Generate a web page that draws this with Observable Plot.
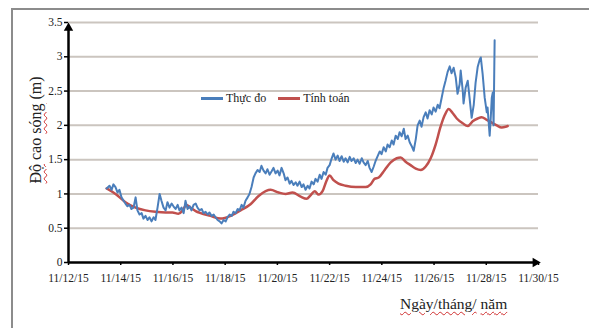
<!DOCTYPE html>
<html>
<head>
<meta charset="utf-8">
<script src="https://cdn.jsdelivr.net/npm/d3@7"></script>
<script src="https://cdn.jsdelivr.net/npm/@observablehq/plot@0.6"></script>
<style>
  html, body { margin: 0; padding: 0; background: #fff; }
  #wrap { position: relative; width: 589px; height: 328px; overflow: hidden; font-family: "Liberation Serif", serif; }
  #frame { position: absolute; left: 11px; top: 8px; width: 700px; height: 400px; border-left: 2px solid #8c8c8c; border-top: 2px solid #8c8c8c; }
  #chart { position: absolute; left: 0; top: 0; }
  .legend { position: absolute; top: 91px; left: 201px; font-size: 12px; color: #222; display: flex; align-items: center; white-space: nowrap; }
  .sw { display: inline-block; width: 22px; height: 2.5px; margin-right: 3px; }
  .ylab { position: absolute; left: 36px; top: 130px; transform: translate(-50%, -50%) rotate(-90deg); font-size: 16px; color: #222; white-space: nowrap; }
  .xlab { position: absolute; left: 400px; top: 295px; font-size: 15.5px; color: #222; white-space: nowrap; }
  .sp { text-decoration: underline wavy #d03030; text-decoration-thickness: 1px; text-underline-offset: 2px; }
</style>
</head>
<body>
<div id="wrap">
  <div id="frame"></div>
  <div id="chart"></div>
  <div class="legend"><span class="sw" style="background:#4a7ebb"></span>Thực đo<span class="sw" style="background:#c0504d;margin-left:12px"></span>Tính toán</div>
  <div class="ylab"><span class="sp">Độ</span> cao <span class="sp">sóng</span> (m)</div>
  <div class="xlab"><span class="sp">Ngày/tháng/</span> <span class="sp">năm</span></div>
</div>
<script>
// Days since 11/12/2015 00:00
const measDay = [1.46,1.57,1.65,1.72,1.80,1.88,1.95,2.03,2.11,2.18,2.26,2.34,2.41,2.49,2.57,2.64,2.72,2.80,2.87,2.95,3.03,3.10,3.18,3.26,3.33,3.41,3.49,3.56,3.64,3.72,3.79,3.87,3.95,4.02,4.10,4.18,4.25,4.33,4.41,4.48,4.56,4.64,4.71,4.79,4.87,4.94,5.02,5.10,5.17,5.25,5.33,5.40,5.48,5.56,5.63,5.71,5.79,5.86,5.94,6.02,6.09,6.17,6.25,6.32,6.40,6.48,6.55,6.63,6.70,6.78,6.86,6.93,7.01,7.09,7.16,7.24,7.32,7.39,7.47,7.55,7.62,7.70,7.78,7.85,7.93,8.01,8.08,8.16,8.24,8.31,8.39,8.47,8.54,8.62,8.70,8.77,8.85,8.93,9.00,9.08,9.16,9.23,9.31,9.39,9.46,9.54,9.62,9.69,9.77,9.85,9.92,10.00,10.08,10.15,10.23,10.31,10.38,10.46,10.54,10.61,10.69,10.77,10.84,10.92,11.00,11.07,11.15,11.23,11.30,11.38,11.46,11.53,11.61,11.69,11.76,11.84,11.92,11.99,12.07,12.15,12.22,12.30,12.38,12.45,12.53,12.61,12.68,12.76,12.84,12.91,12.99,13.07,13.14,13.22,13.30,13.37,13.45,13.52,13.60,13.68,13.75,13.83,13.91,13.98,14.06,14.14,14.21,14.29,14.37,14.44,14.52,14.60,14.67,14.75,14.83,14.90,14.98,15.02,15.10,15.13,15.21,15.29,15.36,15.44,15.52,15.59,15.67,15.75,15.79,15.86,15.94,16.02,16.05,16.13,16.17,16.21,16.25,16.28,16.32];
const measVal = [1.08,1.12,1.06,1.14,1.10,1.02,1.06,0.95,0.90,0.86,0.82,0.84,0.78,0.80,0.95,0.76,0.70,0.72,0.64,0.68,0.62,0.66,0.60,0.66,0.62,0.80,1.00,0.90,0.80,0.76,0.88,0.80,0.86,0.82,0.78,0.84,0.76,0.80,0.72,0.90,0.78,0.82,0.76,0.84,0.86,0.80,0.76,0.78,0.72,0.74,0.70,0.73,0.68,0.70,0.66,0.62,0.60,0.57,0.62,0.60,0.66,0.70,0.68,0.74,0.72,0.78,0.76,0.84,0.80,0.90,0.95,1.00,1.10,1.24,1.30,1.35,1.32,1.41,1.34,1.30,1.36,1.28,1.33,1.38,1.30,1.34,1.27,1.38,1.30,1.20,1.24,1.15,1.19,1.13,1.17,1.12,1.18,1.10,1.14,1.06,1.12,1.08,1.18,1.14,1.22,1.18,1.28,1.22,1.32,1.28,1.38,1.42,1.52,1.59,1.50,1.56,1.48,1.55,1.47,1.52,1.46,1.54,1.48,1.52,1.45,1.50,1.44,1.52,1.46,1.42,1.48,1.38,1.32,1.40,1.48,1.55,1.62,1.58,1.68,1.62,1.72,1.68,1.78,1.72,1.85,1.80,1.90,1.84,1.95,1.80,1.85,1.75,1.70,1.63,1.80,2.00,2.07,1.98,2.12,2.19,2.10,2.22,2.16,2.26,2.20,2.30,2.25,2.40,2.55,2.65,2.78,2.86,2.76,2.84,2.70,2.46,2.60,2.80,2.50,2.32,2.55,2.65,2.40,2.11,2.30,2.62,2.85,2.96,2.99,2.75,2.40,2.19,2.26,1.85,2.10,2.40,2.48,2.00,3.24];
const calcDay = [1.46,1.80,2.18,2.57,2.95,3.33,3.72,3.98,4.21,4.37,4.52,4.67,4.87,5.06,5.44,5.82,6.21,6.59,6.97,7.28,7.55,7.74,8.05,8.31,8.58,8.89,9.12,9.27,9.43,9.58,9.73,9.89,10.00,10.15,10.34,10.61,11.00,11.38,11.57,11.72,11.88,12.11,12.34,12.57,12.72,12.91,13.10,13.30,13.49,13.68,13.87,14.06,14.25,14.41,14.56,14.71,14.87,15.10,15.29,15.48,15.67,15.82,16.02,16.21,16.40,16.59,16.74,16.82];
const calcVal = [1.08,1.00,0.88,0.80,0.76,0.74,0.73,0.73,0.71,0.76,0.84,0.80,0.75,0.72,0.68,0.64,0.68,0.76,0.85,0.97,1.04,1.06,1.02,1.00,1.02,0.96,0.93,0.98,1.04,0.99,1.04,1.20,1.27,1.20,1.15,1.12,1.10,1.10,1.14,1.22,1.24,1.35,1.46,1.52,1.53,1.47,1.42,1.37,1.35,1.40,1.52,1.72,1.98,2.15,2.24,2.18,2.10,2.03,1.99,2.06,2.10,2.12,2.08,2.04,2.00,1.97,1.98,1.99];
const yTicks = [0, 0.5, 1, 1.5, 2, 2.5, 3, 3.5];
const xTickDays = [0, 2, 4, 6, 8, 10, 12, 14, 16, 18];
const seriesNames = ["Thực đo", "Tính toán"];
const colors = ["#4a7ebb", "#c0504d"];

const t0 = Date.UTC(2015, 10, 12);
const toDate = d => new Date(t0 + d * 86400000);
const meas = measDay.map((d, i) => ({date: toDate(d), v: measVal[i]}));
const calc = calcDay.map((d, i) => ({date: toDate(d), v: calcVal[i]}));
const xStart = toDate(xTickDays[0]);
const xEnd = toDate(xTickDays[xTickDays.length - 1]);
const fmt = d3.utcFormat("%m/%d/%y");

const chart = Plot.plot({
  width: 589,
  height: 328,
  marginLeft: 68,
  marginRight: 51,
  marginTop: 22,
  marginBottom: 66,
  style: {fontFamily: "'Liberation Serif', serif", fontSize: "11.5px", color: "#222", background: "transparent", overflow: "visible"},
  x: {type: "utc", domain: [xStart, xEnd]},
  y: {domain: [0, 3.5]},
  marks: [
    Plot.ruleY(yTicks.filter(v => v > 0), {stroke: "#cbc5bf", strokeWidth: 2}),
    Plot.axisY({ticks: yTicks, tickFormat: d => String(d), tickSize: 4, tickPadding: 2, label: null, stroke: "#000", strokeWidth: 1.5}),
    Plot.axisX({ticks: xTickDays.map(toDate), tickFormat: fmt, tickSize: 3, tickPadding: 8, label: null, stroke: "#000", strokeWidth: 1.5}),
    Plot.line(calc, {x: "date", y: "v", stroke: colors[1], strokeWidth: 2.5, curve: "monotone-x"}),
    Plot.line(meas, {x: "date", y: "v", stroke: colors[0], strokeWidth: 2}),
    Plot.link([0], {x1: () => xStart, y1: () => 0, x2: () => xStart, y2: () => 3.45, stroke: "#000", strokeWidth: 2.5}),
    Plot.link([0], {x1: () => xStart, y1: () => 0, x2: () => toDate(17.85), y2: () => 0, stroke: "#000", strokeWidth: 2.5}),
    Plot.dot([0], {x: () => xStart, y: () => 3.42, symbol: "triangle", r: 3.5, fill: "#000", stroke: "none"}),
    Plot.dot([0], {x: () => toDate(17.88), y: () => 0, symbol: "triangle", r: 3.5, fill: "#000", stroke: "none", rotate: 90})
  ]
});
document.getElementById("chart").appendChild(chart);
</script>
</body>
</html>
